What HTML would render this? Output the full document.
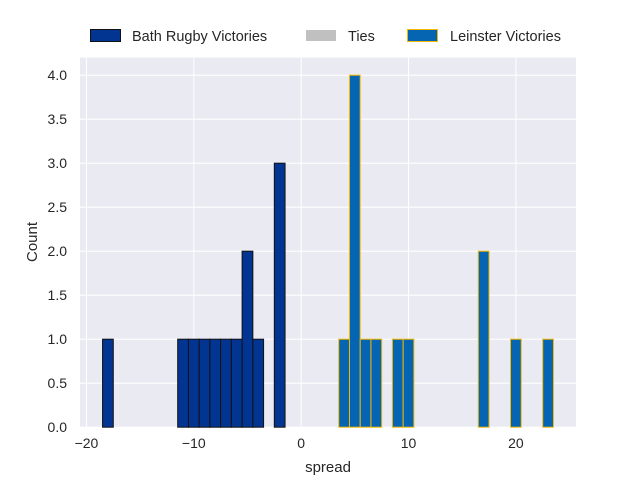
<!DOCTYPE html>
<html><head><meta charset="utf-8"><style>
body{margin:0;background:#fff;}
svg{display:block;font-family:"Liberation Sans","DejaVu Sans",sans-serif;}
</style></head><body>
<svg id="chart" width="640" height="480">
<rect x="80" y="57.6" width="496" height="369.6" fill="#eaeaf2"/>
<g id="grid"></g><g id="bars"></g><g id="ticks"></g>
<text x="328" y="472" text-anchor="middle" font-size="15" fill="#262626">spread</text>
<text transform="translate(37,242) rotate(-90)" text-anchor="middle" font-size="15" fill="#262626">Count</text>
<g>
<g><rect x="90.5" y="29.5" width="30" height="12" fill="#023591" stroke="#111" stroke-width="1"/><text x="132" y="41" font-size="14.5" fill="#262626">Bath Rugby Victories</text></g>
<g><rect x="306" y="30" width="30" height="11" fill="#c0c0c0"/><text x="348" y="41" font-size="14.5" fill="#262626">Ties</text></g>
<g><rect x="407.5" y="29.5" width="30" height="12" fill="#0565b2" stroke="#f5b800" stroke-width="1"/><text x="450" y="41" font-size="14.5" fill="#262626">Leinster Victories</text></g>
</g>
</svg>
<script>
const bathSpreads=[-18,-11,-10,-9,-8,-7,-6,-5,-4,-2];
const bathCounts=[1,1,1,1,1,1,1,2,1,3];
const leinsterSpreads=[4,5,6,7,9,10,17,20,23];
const leinsterCounts=[1,4,1,1,1,1,2,1,1];
const xTicks=[-20,-10,0,10,20];
const yTicks=[0,0.5,1,1.5,2,2.5,3,3.5,4];
const NS="http://www.w3.org/2000/svg";
const X0=80,X1=576,Y0=427.2,Y1=57.6,xmin=-20.6,xmax=25.6,ymax=4.2;
const sx=v=>X0+(v-xmin)/(xmax-xmin)*(X1-X0);
const sy=v=>Y0-v/ymax*(Y0-Y1);
function mk(t,a,p){const e=document.createElementNS(NS,t);for(const k in a)e.setAttribute(k,a[k]);p.appendChild(e);return e;}
const grid=document.getElementById('grid'),ticks=document.getElementById('ticks'),bars=document.getElementById('bars');
xTicks.forEach(t=>{const l=mk('line',{x1:sx(t),x2:sx(t),y1:Y1,y2:Y0,stroke:'#fff','stroke-width':1},grid);

const tx=mk('text',{x:sx(t),y:448,'text-anchor':'middle','font-size':14,fill:'#262626'},ticks);tx.textContent=String(t).replace('-','\u2212');
});
yTicks.forEach(t=>{const l=mk('line',{x1:X0,x2:X1,y1:sy(t),y2:sy(t),stroke:'#fff','stroke-width':1},grid);

const tx=mk('text',{x:67,y:sy(t)+5,'text-anchor':'end','font-size':14,fill:'#262626'},ticks);tx.textContent=t.toFixed(1);
});
function draw(xs,cs,fill,stroke,name){xs.forEach((v,i)=>{const r=mk('rect',{x:sx(v-0.5),y:sy(cs[i]),width:sx(v+0.5)-sx(v-0.5),height:Y0-sy(cs[i]),fill:fill,stroke:stroke,'stroke-width':1},bars);
});}
draw(bathSpreads,bathCounts,'#023591','#111','bath-bar');
draw(leinsterSpreads,leinsterCounts,'#0565b2','#f5b800','leinster-bar');
</script>
</body></html>
